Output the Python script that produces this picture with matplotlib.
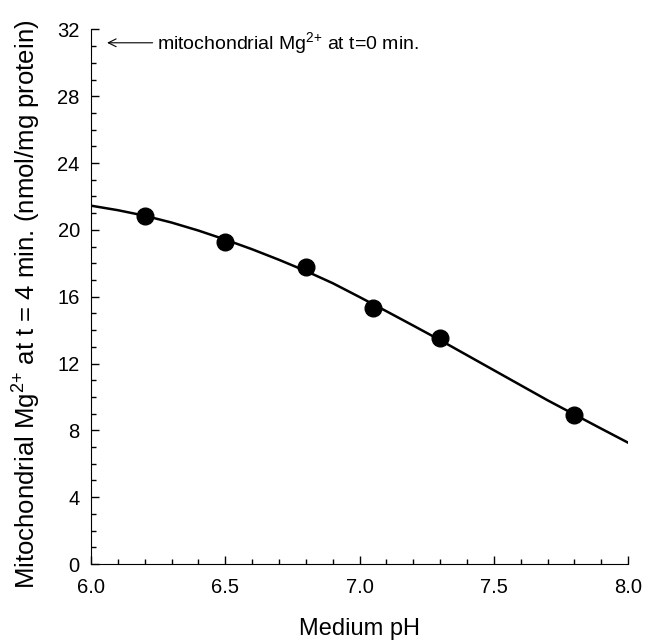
import matplotlib.pyplot as plt
from matplotlib.ticker import MultipleLocator

plt.rcParams["font.family"] = ["Liberation Sans", "DejaVu Sans"]
plt.rcParams["mathtext.fontset"] = "custom"
plt.rcParams["mathtext.rm"] = "Liberation Sans"
plt.rcParams["mathtext.it"] = "Liberation Sans:italic"
plt.rcParams["mathtext.default"] = "regular"

# measured points
ph_points = [6.2, 6.5, 6.8, 7.05, 7.3, 7.8]
mg_points = [20.85, 19.3, 17.8, 15.3, 13.5, 8.92]

# fitted curve
ph_curve = [6.0, 6.1, 6.2, 6.3, 6.4, 6.5, 6.6, 6.7, 6.8, 6.9, 7.0,
            7.1, 7.2, 7.3, 7.4, 7.5, 7.6, 7.7, 7.8, 7.9, 8.0]
mg_curve = [21.45, 21.18, 20.85, 20.44, 19.96, 19.42, 18.84, 18.21, 17.54, 16.81, 15.98,
            15.13, 14.27, 13.4, 12.5, 11.6, 10.7, 9.8, 8.95, 8.1, 7.26]

mg_t0 = 31.2


def main():
    fig = plt.figure(figsize=(6.48, 6.41), dpi=100)
    ax = fig.add_axes([0.1404, 0.1201, 0.829, 0.834])

    ax.plot(ph_curve, mg_curve, color="black", linewidth=1.8, zorder=2)
    ax.plot(ph_points, mg_points, "o", color="black", markersize=12, zorder=3)

    ax.set_xlim(6.0, 8.0)
    ax.set_ylim(0, 32)
    ax.xaxis.set_major_locator(MultipleLocator(0.5))
    ax.xaxis.set_minor_locator(MultipleLocator(0.1))
    ax.yaxis.set_major_locator(MultipleLocator(4))
    ax.yaxis.set_minor_locator(MultipleLocator(1))
    ax.xaxis.set_major_formatter(plt.FormatStrFormatter("%.1f"))

    ax.tick_params(which="major", direction="in", length=6, width=1, labelsize=14.5)
    ax.tick_params(axis="x", which="major", pad=10)
    ax.tick_params(axis="y", which="major", pad=8)
    ax.tick_params(which="minor", direction="in", length=3.5, width=1)

    ax.spines["top"].set_visible(False)
    ax.spines["right"].set_visible(False)

    ax.set_xlabel("Medium pH", fontsize=17, labelpad=15)
    ax.set_ylabel("Mitochondrial Mg$^{2{+}}$ at t = 4 min. (nmol/mg protein)", fontsize=18.5)
    ax.yaxis.set_label_coords(-0.09, 0.485)

    ax.annotate("mitochondrial Mg$^{2{+}}$ at t=0 min.",
                xy=(6.06, mg_t0), xytext=(6.245, mg_t0),
                fontsize=14, va="center", ha="left",
                arrowprops=dict(arrowstyle="->", color="black", lw=0.8,
                                shrinkA=1, shrinkB=0, mutation_scale=14))

    fig.savefig("out.png", dpi=100)
    plt.close(fig)


if __name__ == "__main__":
    main()
